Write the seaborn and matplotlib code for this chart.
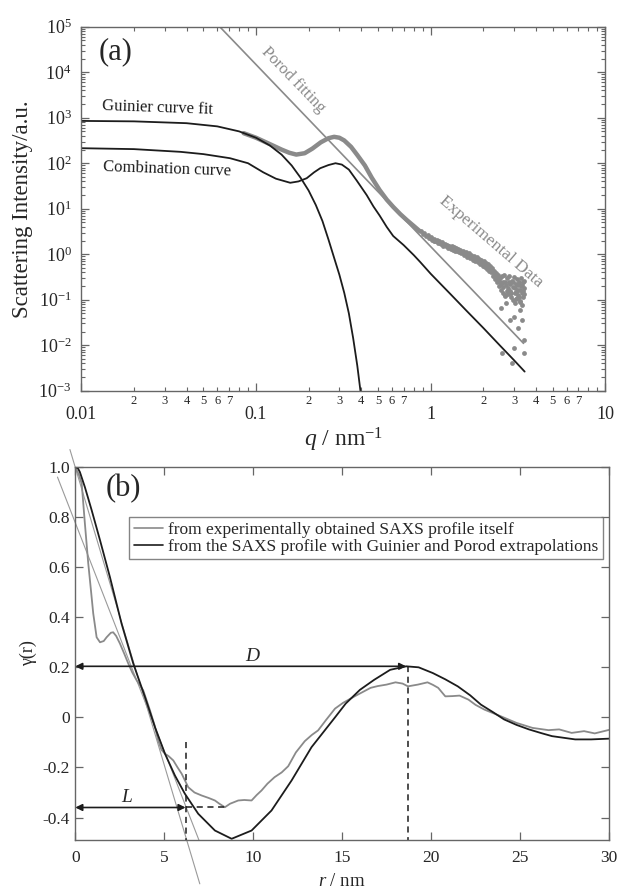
import numpy as np
import pandas as pd
import matplotlib
matplotlib.use("Agg")
import matplotlib.pyplot as plt
import seaborn as sns
from matplotlib.ticker import FixedLocator, NullFormatter

# ---------------- Panel (a) data (log10 of intensity) ----------------
guinier_q = [0.01, 0.02, 0.04, 0.06, 0.08, 0.10, 0.12, 0.14, 0.16, 0.18, 0.20,
             0.22, 0.24, 0.26, 0.28, 0.30, 0.32, 0.34, 0.36, 0.38, 0.396]
guinier_logI = [2.93, 2.92, 2.88, 2.81, 2.70, 2.56, 2.39, 2.19, 1.95, 1.68, 1.40,
                1.08, 0.73, 0.32, -0.08, -0.45, -0.85, -1.30, -1.85, -2.45, -3.0]

comb_q = [0.01, 0.02, 0.037, 0.05, 0.071, 0.09, 0.11, 0.13, 0.157, 0.175, 0.195,
          0.215, 0.233, 0.26, 0.285, 0.31, 0.34, 0.377, 0.43, 0.47, 0.51, 0.56,
          0.61, 0.70, 0.80, 0.87, 1.0, 1.3, 1.61, 2.0, 2.51, 3.0, 3.45]
comb_logI = [2.33, 2.31, 2.25, 2.20, 2.11, 2.00, 1.80, 1.66, 1.57, 1.60, 1.67,
             1.80, 1.89, 1.96, 2.00, 1.97, 1.86, 1.62, 1.30, 1.05, 0.85, 0.60,
             0.40, 0.20, -0.02, -0.17, -0.43, -0.88, -1.25, -1.62, -2.02, -2.33, -2.58]

porod_q = [0.062, 3.40]
porod_logI = [5.0, -1.96]

exp_line_q = [0.085, 0.10, 0.12, 0.14, 0.155, 0.17, 0.19, 0.21, 0.235, 0.26, 0.28,
              0.30, 0.32, 0.35, 0.38, 0.42, 0.46, 0.51, 0.56, 0.61, 0.67, 0.73,
              0.80, 0.87]
exp_line_logI = [2.66, 2.56, 2.42, 2.30, 2.23, 2.19, 2.22, 2.32, 2.46, 2.55, 2.58,
                 2.56, 2.50, 2.36, 2.18, 1.95, 1.68, 1.41, 1.20, 1.04, 0.88, 0.75,
                 0.62, 0.50]

exp_pts_q = [0.88, 0.90, 0.92, 0.94, 0.96, 0.98, 1.00, 1.02, 1.04, 1.06, 1.08, 1.10,
             1.12, 1.14, 1.16, 1.18, 1.20, 1.22, 1.24, 1.26, 1.28, 1.30, 1.32, 1.34,
             1.36, 1.38, 1.40, 1.42, 1.44, 1.46, 1.48,
             1.50, 1.53, 1.56, 1.59, 1.62, 1.65, 1.68, 1.71, 1.74, 1.77, 1.80, 1.83,
             1.86, 1.89, 1.92, 1.95, 1.98, 2.01, 2.04, 2.07, 2.10, 2.13, 2.16, 2.19,
             2.22, 2.25, 2.28, 2.31, 2.34, 2.37, 2.40, 2.43, 2.46, 2.49, 2.52, 2.55,
             2.58, 2.61, 2.64, 2.67, 2.70, 2.73, 2.76, 2.79, 2.82, 2.85, 2.88, 2.91,
             2.94, 2.97, 3.00, 3.03, 3.06, 3.09, 3.12, 3.15, 3.18, 3.21, 3.24, 3.27,
             3.30, 3.33, 3.36, 3.39, 3.42, 3.44,
             1.01, 1.05, 1.09, 1.13, 1.17, 1.21, 1.25, 1.29, 1.33, 1.37, 1.41, 1.45,
             1.52, 1.58, 1.64, 1.70, 1.76, 1.82, 1.88, 1.94, 2.00, 2.06, 2.12, 2.18,
             2.24, 2.30, 2.36, 2.42, 2.48, 2.54, 2.60, 2.66, 2.72, 2.78, 2.84, 2.90,
             2.96, 3.02, 3.08, 3.14, 3.20, 3.26, 3.32, 3.38, 3.43,
             2.51, 2.57, 2.65, 2.70, 2.86, 2.93, 2.98, 3.00, 3.05, 3.10, 3.17, 3.26,
             3.26, 3.33, 3.33, 3.40, 3.40]
exp_pts_logI = [0.50, 0.45, 0.47, 0.41, 0.43, 0.36, 0.38, 0.31, 0.34, 0.28, 0.31, 0.25,
                0.28, 0.22, 0.26, 0.19, 0.23, 0.17, 0.21, 0.14, 0.19, 0.12, 0.17, 0.10,
                0.15, 0.08, 0.13, 0.06, 0.11, 0.04, 0.09,
                0.02, 0.08, -0.02, 0.05, -0.06, 0.02, -0.09, -0.01, -0.12, -0.04, -0.15, -0.06,
                -0.18, -0.10, -0.22, -0.13, -0.25, -0.16, -0.29, -0.19, -0.33, -0.22, -0.36, -0.26,
                -0.40, -0.30, -0.48, -0.36, -0.55, -0.42, -0.62, -0.45, -0.70, -0.52, -0.78, -0.48,
                -0.85, -0.60, -0.45, -0.92, -0.68, -0.52, -0.88, -0.62, -0.48, -0.80, -0.95, -0.58,
                -0.72, -1.00, -0.50, -0.85, -0.65, -0.98, -0.55, -0.78, -0.90, -0.60, -1.02, -0.70,
                -0.52, -0.85, -0.62, -0.95, -0.58, -0.75,
                0.36, 0.29, 0.29, 0.24, 0.22, 0.20, 0.18, 0.15, 0.13, 0.12, 0.09, 0.08,
                0.04, 0.00, -0.02, -0.06, -0.08, -0.11, -0.15, -0.18, -0.22, -0.25, -0.28, -0.31,
                -0.35, -0.42, -0.50, -0.55, -0.60, -0.65, -0.72, -0.62, -0.80, -0.75, -0.65, -0.85,
                -0.62, -0.75, -0.82, -0.68, -0.95, -0.78, -0.68, -0.80, -0.88,
                -1.19, -2.18, -0.90, -1.08, -1.45, -2.40, -2.07, -1.37, -1.08, -0.97, -1.63, -1.23,
                -1.04, -1.45, -1.12, -1.89, -2.18]

# ---------------- Panel (b) data ----------------
exp_r = [0, 0.2, 0.36, 0.54, 0.73, 0.85, 1.01, 1.2, 1.39, 1.6, 1.76, 2.0, 2.13, 2.3,
         2.51, 2.75, 2.98, 3.2, 3.45, 3.82, 4.2, 4.45, 4.66, 4.85, 5.04, 5.25, 5.51,
         5.75, 5.98, 6.35, 6.7, 7.1, 7.5, 7.85, 8.1, 8.41, 8.7, 9.16, 9.5, 9.91, 10.2,
         10.47, 10.8, 11.2, 11.6, 11.97, 12.4, 12.9, 13.3, 13.65, 14.1, 14.6, 15.05,
         15.7, 16.6, 17.0, 17.5, 18.0, 18.4, 18.7, 19.26, 19.8, 20.1, 20.4, 20.8, 21.2,
         21.6, 22.1, 22.5, 23.0, 23.9, 24.8, 25.7, 26.6, 27.2, 27.9, 28.6, 29.2, 30.0]
exp_gamma = [1.0, 0.97, 0.935, 0.775, 0.615, 0.53, 0.415, 0.32, 0.30, 0.305, 0.32, 0.338,
             0.34, 0.325, 0.295, 0.255, 0.215, 0.18, 0.148, 0.108, 0.028, -0.03, -0.092,
             -0.13, -0.145, -0.155, -0.172, -0.2, -0.225, -0.279, -0.30, -0.312, -0.322,
             -0.332, -0.345, -0.359, -0.345, -0.332, -0.33, -0.332, -0.31, -0.292, -0.265,
             -0.239, -0.22, -0.195, -0.14, -0.095, -0.07, -0.052, -0.01, 0.035, 0.058,
             0.084, 0.118, 0.125, 0.131, 0.14, 0.135, 0.124, 0.131, 0.14, 0.13, 0.118,
             0.084, 0.085, 0.087, 0.071, 0.05, 0.031, 0.005, -0.022, -0.042, -0.051,
             -0.048, -0.062, -0.055, -0.064, -0.05]

ext_r = [0, 0.15, 0.26, 0.54, 0.92, 1.39, 1.95, 2.6, 3.26, 3.92, 4.48, 5.04, 5.6, 6.16,
         6.91, 7.85, 8.79, 9.91, 11.03, 12.16, 13.28, 14.6, 15.2, 16.0, 16.8, 17.7, 18.6,
         19.3, 20.1, 20.8, 21.5, 22.2, 22.8, 23.5, 24.1, 24.8, 25.5, 26.2, 26.8, 27.5,
         28.1, 29.0, 30.0]
ext_gamma = [1.0, 0.995, 0.98, 0.92, 0.828, 0.708, 0.56, 0.375, 0.215, 0.081, -0.039,
             -0.145, -0.232, -0.305, -0.385, -0.452, -0.485, -0.452, -0.372, -0.252,
             -0.119, 0.0, 0.055, 0.11, 0.15, 0.19, 0.204, 0.2, 0.177, 0.152, 0.124,
             0.088, 0.051, 0.02, -0.008, -0.03, -0.048, -0.063, -0.075, -0.082, -0.088,
             -0.088, -0.085]

tangent1_r = [-0.3, 7.0]
tangent1_g = [1.07, -0.665]
tangent2_r = [-1.0, 6.95]
tangent2_g = [0.96, -0.49]

D_value = 18.6
D_level = 0.204
L_value = 6.2
L_level = -0.36
L_dash_end = 8.55
L_dash_top = -0.10

legend_labels = ["from experimentally obtained SAXS profile itself",
                 "from the SAXS profile with Guinier and Porod extrapolations"]

# ---------------- Style ----------------
sns.set_style("ticks")
plt.rcParams["font.family"] = ["Liberation Serif", "DejaVu Serif"]
plt.rcParams["mathtext.fontset"] = "custom"
plt.rcParams["mathtext.rm"] = "Liberation Serif"
plt.rcParams["mathtext.it"] = "Liberation Serif:italic"
plt.rcParams["axes.edgecolor"] = "#666666"
plt.rcParams["axes.linewidth"] = 1.0

BLACK = "#1c1c1c"
GRAY = "#8a8a8a"
SPINE = "#666666"

fig = plt.figure(figsize=(6.18, 8.91), dpi=100)
ax1 = fig.add_axes([0.1316, 0.5615, 0.848, 0.4085])
ax2 = fig.add_axes([0.1218, 0.0572, 0.8636, 0.4186])

# ---------------- Panel (a) ----------------
ax1.set_xscale("log")
ax1.set_yscale("log")

df_porod = pd.DataFrame({"q": porod_q, "I": 10.0 ** np.array(porod_logI)})
sns.lineplot(data=df_porod, x="q", y="I", ax=ax1, color=GRAY, lw=1.2, sort=False,
             estimator=None)
df_expl = pd.DataFrame({"q": exp_line_q, "I": 10.0 ** np.array(exp_line_logI)})
sns.lineplot(data=df_expl, x="q", y="I", ax=ax1, color=GRAY, lw=3.2, sort=False,
             estimator=None)
df_expp = pd.DataFrame({"q": exp_pts_q, "I": 10.0 ** np.array(exp_pts_logI)})
sns.scatterplot(data=df_expp, x="q", y="I", ax=ax1, color=GRAY, s=12, linewidth=0)
df_g = pd.DataFrame({"q": guinier_q, "I": 10.0 ** np.array(guinier_logI)})
sns.lineplot(data=df_g, x="q", y="I", ax=ax1, color=BLACK, lw=1.3, sort=False,
             estimator=None)
df_c = pd.DataFrame({"q": comb_q, "I": 10.0 ** np.array(comb_logI)})
sns.lineplot(data=df_c, x="q", y="I", ax=ax1, color=BLACK, lw=1.3, sort=False,
             estimator=None)

ax1.set_xlim(0.01, 10)
ax1.set_ylim(1e-3, 1e5)

major_x = [0.01, 0.1, 1, 10]
ax1.xaxis.set_major_locator(FixedLocator(major_x))
ax1.set_xticklabels(["0.01", "0.1", "1", "10"])
minor_x = [m * d for d in [0.01, 0.1, 1] for m in range(2, 10)]
minor_lbl = [str(m) if m <= 7 else "" for d in [0.01, 0.1, 1] for m in range(2, 10)]
ax1.set_xticks(minor_x, minor=True)
ax1.set_xticklabels(minor_lbl, minor=True)
ax1.yaxis.set_major_locator(FixedLocator([10.0 ** k for k in range(-3, 6)]))
ax1.set_yticklabels([r"$10^{%d}$" % k for k in range(-3, 6)])
ax1.set_yticks([m * 10.0 ** k for k in range(-3, 5) for m in range(2, 10)], minor=True)
ax1.yaxis.set_minor_formatter(NullFormatter())

ax1.tick_params(axis="both", which="both", direction="in", top=True, right=True,
                color=SPINE)
ax1.tick_params(axis="x", which="major", length=6, width=0.9, pad=11, labelsize=13)
ax1.tick_params(axis="x", which="minor", length=3, width=0.8, pad=3, labelsize=9)
ax1.tick_params(axis="y", which="major", length=6, width=0.9, pad=7, labelsize=13)
ax1.tick_params(axis="y", which="minor", length=3, width=0.8)

ax1.set_xlabel(r"$q$ / nm$^{-1}$", fontsize=17, labelpad=2)
ax1.set_ylabel("Scattering Intensity/a.u.", fontsize=16.5, labelpad=4)

ax1.text(0.0125, 10 ** 4.44, "(a)", fontsize=22, ha="left", va="center")
ax1.text(0.0131, 10 ** 3.22, "Guinier curve fit", fontsize=12, ha="left",
         va="center", rotation=-2, color=BLACK)
ax1.text(0.0133, 10 ** 1.87, "Combination curve", fontsize=12, ha="left",
         va="center", rotation=-2, color=BLACK)
ax1.text(0.163, 10 ** 3.83, "Porod fitting", fontsize=12, ha="center", va="center",
         rotation=-46, rotation_mode="anchor", color=GRAY)
ax1.text(2.21, 10 ** 0.275, "Experimental Data", fontsize=12.5, ha="center",
         va="center", rotation=-40.7, rotation_mode="anchor", color=GRAY)

# ---------------- Panel (b) ----------------
sns.lineplot(x=tangent1_r, y=tangent1_g, ax=ax2, color="#9a9a9a", lw=0.8,
             sort=False, estimator=None)
sns.lineplot(x=tangent2_r, y=tangent2_g, ax=ax2, color="#9a9a9a", lw=0.8,
             sort=False, estimator=None)
for ln in ax2.get_lines():
    ln.set_clip_on(False)

df_be = pd.DataFrame({"r": exp_r, "g": exp_gamma, "s": legend_labels[0]})
df_bx = pd.DataFrame({"r": ext_r, "g": ext_gamma, "s": legend_labels[1]})
df_b = pd.concat([df_be, df_bx], ignore_index=True)
sns.lineplot(data=df_b, x="r", y="g", hue="s", palette=[GRAY, BLACK], lw=1.3,
             sort=False, estimator=None, ax=ax2)

ax2.set_xlim(0, 30)
ax2.set_ylim(-0.49, 1.0)

# dashed guides and arrows
ax2.plot([L_value, L_value], [L_dash_top, -0.49], ls=(0, (4, 3)), color=BLACK, lw=1.1)
ax2.plot([L_value, L_dash_end], [L_level, L_level], ls=(0, (4, 3)), color=BLACK, lw=1.1)
ax2.plot([D_value + 0.1, D_value + 0.1], [D_level, -0.49], ls=(0, (4, 3)),
         color=BLACK, lw=1.1)
arrow_kw = dict(arrowstyle="<|-|>", color=BLACK, lw=1.2, shrinkA=0, shrinkB=0,
                mutation_scale=10)
ax2.annotate("", xy=(0, D_level), xytext=(D_value, D_level), arrowprops=arrow_kw)
ax2.annotate("", xy=(0, L_level), xytext=(L_value, L_level), arrowprops=arrow_kw)
ax2.text(9.96, 0.244, "D", fontsize=14, style="italic", ha="center", va="center")
ax2.text(2.89, -0.32, "L", fontsize=14, style="italic", ha="center", va="center")
ax2.text(1.72, 0.914, "(b)", fontsize=22, ha="left", va="center")

ax2.set_xticks([0, 5, 10, 15, 20, 25, 30])
ax2.set_xticklabels(["0", "5", "10", "15", "20", "25", "30"])
yt = [-0.4, -0.2, 0, 0.2, 0.4, 0.6, 0.8, 1.0]
ax2.set_yticks(yt)
ax2.set_yticklabels(["-0.4", "-0.2", "0", "0.2", "0.4", "0.6", "0.8", "1.0"])
ax2.tick_params(axis="both", which="major", direction="in", top=True, right=True,
                length=6, width=0.9, color=SPINE, labelsize=12.5)
ax2.tick_params(axis="x", pad=7)
ax2.tick_params(axis="y", pad=4)
ax2.set_xlabel(r"$r$ / nm", fontsize=13.5, labelpad=5)
ax2.set_ylabel("γ(r)", fontsize=13, labelpad=4)

leg = ax2.legend(loc="upper left", bbox_to_anchor=(0.101, 0.865), borderaxespad=0,
                 fontsize=12.5, frameon=True, fancybox=False, handlelength=1.7,
                 handletextpad=0.3, borderpad=0.25, labelspacing=0.05, title=None)
leg.get_frame().set_edgecolor("#666666")
leg.get_frame().set_linewidth(1.0)
for h in leg.get_lines():
    h.set_linewidth(1.2)

fig.savefig("out.png", dpi=100)
